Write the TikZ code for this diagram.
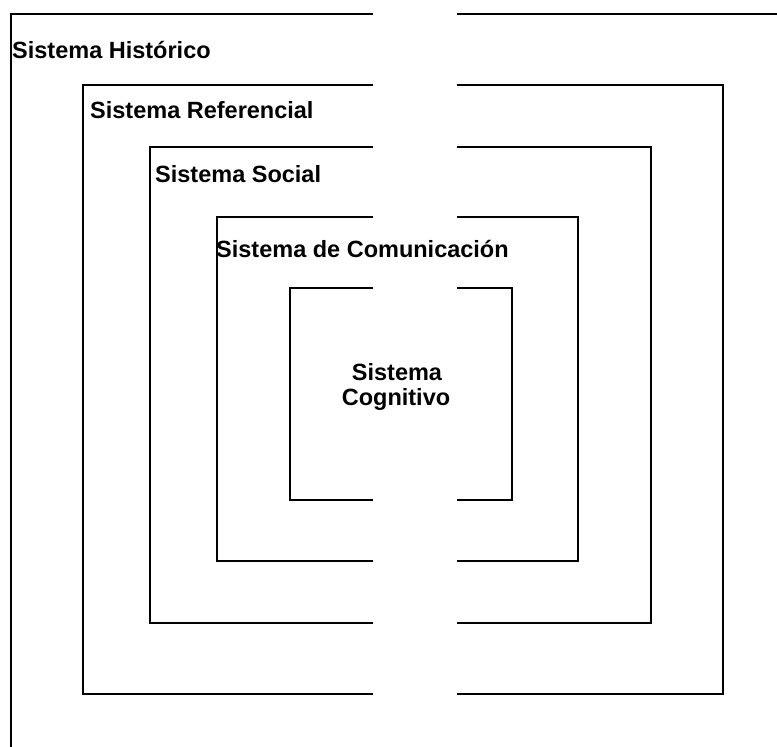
\documentclass[tikz,border=0pt]{standalone}
\usepackage{fontspec}
\setmainfont{Liberation Sans}
\begin{document}
\begin{tikzpicture}[x=1pt,y=-1pt,
  frame/.style={line width=1.8pt, line join=miter},
  lbl/.style={font=\fontsize{23.5}{26}\selectfont\bfseries, inner sep=0pt, anchor=base west},
  clbl/.style={font=\fontsize{23.5}{26}\selectfont\bfseries, inner sep=0pt, anchor=base}]
\useasboundingbox (0,0) rectangle (777,747);
% gap between 373 and 457
% Sistema Historico (outer)
\draw[frame] (373,14) -- (11,14) -- (11,748);
\draw[frame] (457,14) -- (778,14);
% Sistema Referencial
\draw[frame] (373,85) -- (83,85) -- (83,694) -- (373,694);
\draw[frame] (457,85) -- (723,85) -- (723,694) -- (457,694);
% Sistema Social
\draw[frame] (373,147) -- (150,147) -- (150,623) -- (373,623);
\draw[frame] (457,147) -- (651,147) -- (651,623) -- (457,623);
% Sistema de Comunicacion
\draw[frame] (373,217) -- (217,217) -- (217,561) -- (373,561);
\draw[frame] (457,217) -- (578,217) -- (578,561) -- (457,561);
% Sistema Cognitivo
\draw[frame] (373,288) -- (290,288) -- (290,500) -- (373,500);
\draw[frame] (457,288) -- (512,288) -- (512,500) -- (457,500);
% labels
\node[lbl] (hist) at (12,58) {Sistema Histórico};
\node[lbl] (ref) at (90,118) {Sistema Referencial};
\node[lbl] (soc) at (155,182) {Sistema Social};
\node[lbl] (com) at (216,257) {Sistema de Comunicación};
\node[clbl] (cog1) at (397,380) {Sistema};
\node[clbl] (cog2) at (396,405) {Cognitivo};
\end{tikzpicture}
\end{document}
